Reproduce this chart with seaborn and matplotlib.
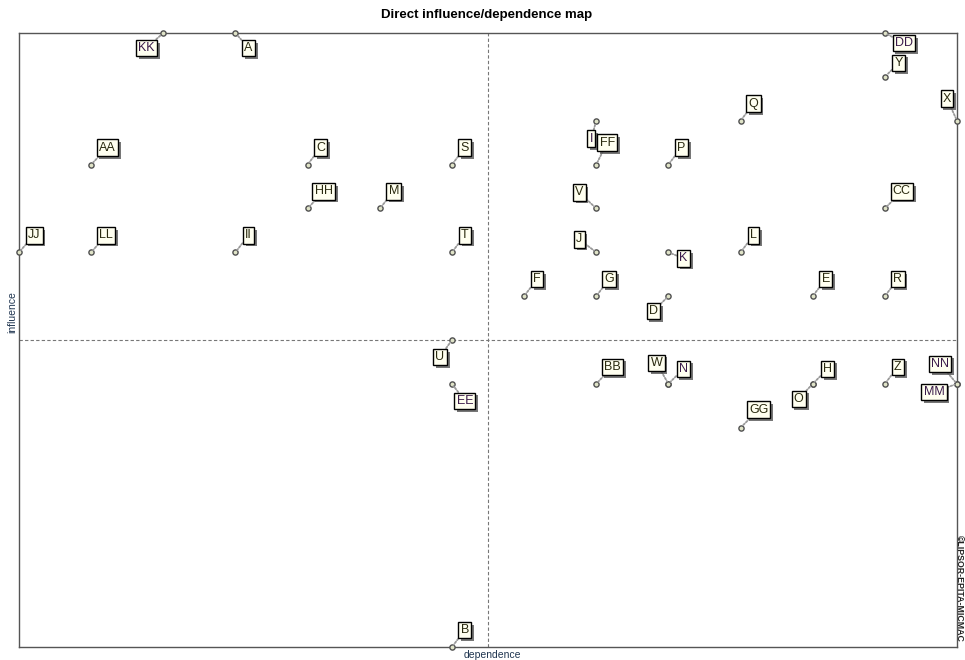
import matplotlib
matplotlib.use("Agg")
import matplotlib.pyplot as plt
import matplotlib.patheffects as pe
import seaborn as sns
import pandas as pd

# ---- data ----
names = ["KK", "A", "DD", "Y", "X", "Q", "I", "FF", "AA", "C", "S", "P",
         "HH", "M", "V", "CC", "JJ", "LL", "II", "T", "J", "K", "L",
         "F", "G", "D", "E", "R", "U", "EE", "BB", "W", "N", "H", "O",
         "Z", "NN", "MM", "GG", "B"]
dependence = [2, 3, 12, 12, 13, 10, 8, 8, 1, 4, 6, 9,
              4, 5, 8, 12, 0, 1, 3, 6, 8, 9, 10,
              7, 8, 9, 11, 12, 6, 6, 8, 9, 9, 11, 11,
              12, 13, 13, 10, 6]
influence = [14, 14, 14, 13, 12, 12, 12, 11, 11, 11, 11, 11,
             10, 10, 10, 10, 9, 9, 9, 9, 9, 9, 9,
             8, 8, 8, 8, 8, 7, 6, 6, 6, 6, 6, 6,
             6, 6, 6, 5, 0]
mean_dependence = 6.5
mean_influence = 7

# label placement (pixels from point: right, down)
default_offset = (13, -17)
offsets = {"KK": (-17, 15), "A": (13, 15), "DD": (19, 10), "Y": (14, -14),
           "X": (-10, -22), "I": (-5, 18), "FF": (11, -22), "AA": (16, -17),
           "HH": (16, -17), "M": (14, -17), "V": (-17, -16), "CC": (17, -17),
           "JJ": (15, -17), "LL": (15, -17), "J": (-17, -13), "K": (15, 6),
           "D": (-15, 15), "U": (-12, 17), "EE": (13, 17), "BB": (16, -17),
           "W": (-12, -21), "N": (15, -15), "H": (15, -15), "O": (-14, 15),
           "NN": (-17, -20), "MM": (-23, 8), "GG": (18, -18)}
dark_names = {"KK", "DD", "I", "K", "NN", "MM", "EE", "N"}

df = pd.DataFrame({"name": names, "dependence": dependence, "influence": influence})

sns.set_style("white")
plt.rcParams["font.family"] = ["Liberation Sans", "DejaVu Sans"]

fig = plt.figure(figsize=(9.65, 6.6), dpi=100)
ax = fig.add_axes([19 / 965, 13 / 660, 938 / 965, 614 / 660])

ax.axvline(mean_dependence, color="#777777", lw=0.8, ls=(0, (3, 2)), zorder=1)
ax.axhline(mean_influence, color="#777777", lw=0.8, ls=(0, (3, 2)), zorder=1)

sns.scatterplot(data=df, x="dependence", y="influence", ax=ax, s=14,
                color="#e0e4c8", edgecolor="#505050", linewidth=1.0,
                zorder=5, clip_on=False, legend=False)

for n, dx, iy in zip(names, dependence, influence):
    ox, oy = offsets.get(n, default_offset)
    col = "#3a1a4a" if n in dark_names else "#2a2a10"
    t = ax.annotate(n, xy=(dx, iy), xytext=(ox, -oy), textcoords="offset pixels",
                    ha="center", va="center", fontsize=9, color=col,
                    bbox=dict(boxstyle="square,pad=0.18", fc="#fffff0",
                              ec="black", lw=1.0),
                    arrowprops=dict(arrowstyle="-", color="#999999", lw=1.3,
                                    ls=(0, (1, 1)), shrinkA=0, shrinkB=2),
                    zorder=6, annotation_clip=False)
    t.get_bbox_patch().set_path_effects([
        pe.SimplePatchShadow(offset=(2, -2), shadow_rgbFace="#555555", alpha=0.8),
        pe.Normal()])

ax.set_xlim(0, 13)
ax.set_ylim(0, 14)
ax.set_xticks([])
ax.set_yticks([])
for sp in ax.spines.values():
    sp.set_color("#555555")
    sp.set_linewidth(1.0)

ax.set_xlabel("")
ax.set_ylabel("")
fig.text(492 / 965, 1 - 655 / 660, "dependence", ha="center", va="center",
         fontsize=7.5, color="#1f3550")
fig.text(12 / 965, 1 - 312 / 660, "influence", ha="center", va="center",
         rotation=90, fontsize=7.5, color="#1f3550")
fig.text(487 / 965, 1 - 15 / 660, "Direct influence/dependence map",
         ha="center", va="center", fontsize=9.5, fontweight="bold", color="black")
fig.text(959 / 965, 1 - 588 / 660, "\u00a9LIPSOR-EPITA-MICMAC", ha="center",
         va="center", rotation=270, fontsize=6.3, fontweight="bold", color="#222222")

fig.savefig("out.png", dpi=100)
